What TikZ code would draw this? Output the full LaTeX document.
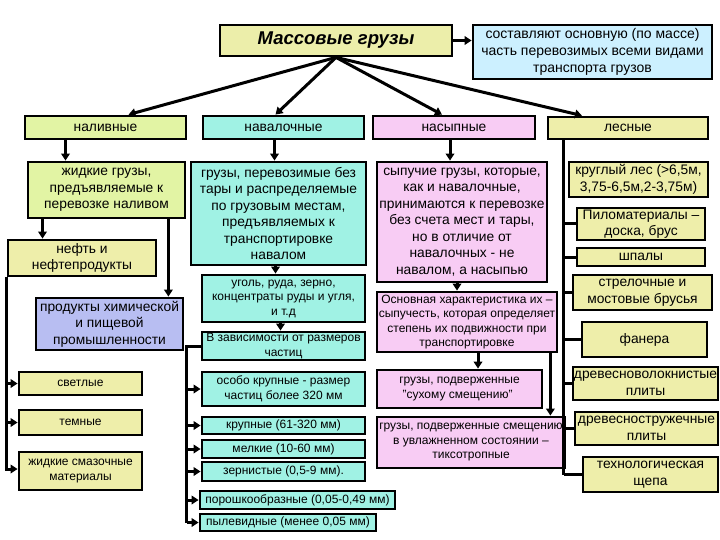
\documentclass[tikz,border=0pt]{standalone}
\usepackage{fontspec}
\setmainfont{Liberation Sans}
\usetikzlibrary{arrows.meta,calc}
\definecolor{cMain}{HTML}{ECEEAA}
\definecolor{cBlue}{HTML}{CCF0FF}
\definecolor{cGreen}{HTML}{E2F4A4}
\definecolor{cYel}{HTML}{EEEEAA}
\definecolor{cCyan}{HTML}{A0F2E4}
\definecolor{cPink}{HTML}{F8CCF4}
\definecolor{cLav}{HTML}{B8BEF2}
\newcommand\bx[7]{\node[box,#2,minimum width={(#5-#3)*1pt},minimum height={(#6-#4)*1pt}] (#1) at ({(#3+#5)/2},{(#4+#6)/2}) {#7};}
\begin{document}
\begin{tikzpicture}[x=1pt,y=-1pt,
  box/.style={draw=black,line width=2.8pt,inner sep=0.5pt,align=center,font=\fontsize{13.8}{16.5}\selectfont},
  sm/.style={font=\fontsize{12}{14.5}\selectfont},
  ln/.style={line width=3pt},
  arr/.style={line width=3pt,-{Triangle[length=7pt,width=8.5pt]}}]
\useasboundingbox[fill=white] (0,0) rectangle (720,540);
% top
\bx{main}{fill=cMain,font=\fontsize{18.5}{21}\bfseries\itshape\selectfont}{220}{25}{452}{56}{Массовые грузы}
\bx{note}{fill=cBlue,font=\fontsize{14}{17}\selectfont}{473}{25}{712}{79}{составляют основную (по массе)\\часть перевозимых всеми видами\\транспорта грузов}
% categories
\bx{nal}{fill=cGreen}{25}{116}{186}{139}{наливные}
\bx{nav}{fill=cCyan}{203}{116}{364}{139}{навалочные}
\bx{nas}{fill=cPink}{373}{116}{535}{139}{насыпные}
\bx{les}{fill=cYel}{548}{117}{708}{139}{лесные}
% column 1
\bx{zhid}{fill=cGreen}{28}{162}{185}{218}{жидкие грузы,\\предъявляемые к\\перевозке наливом}
\bx{neft}{fill=cYel}{8}{240}{156}{276}{нефть и\\нефтепродукты}
\bx{prod}{fill=cLav}{36}{298}{183}{350}{продукты химической\\и пищевой\\промышленности}
\bx{svet}{fill=cYel,sm}{19}{372}{142}{395}{светлые}
\bx{temn}{fill=cYel,sm}{19}{410}{142}{435}{темные}
\bx{smaz}{fill=cYel,sm}{19}{452}{142}{490}{жидкие смазочные\\материалы}
% column 2
\bx{gruz}{fill=cCyan}{191}{162}{366}{265}{грузы, перевозимые без\\тары и распределяемые\\по грузовым местам,\\предъявляемых к\\транспортировке\\навалом}
\bx{ugol}{fill=cCyan,sm}{202}{275}{365}{322}{уголь, руда, зерно,\\концентраты руды и угля,\\и т.д}
\bx{zav}{fill=cCyan,sm}{202}{332}{365}{360}{В зависимости от размеров\\частиц}
\bx{osob}{fill=cCyan,sm}{202}{372}{365}{406}{особо крупные - размер\\частиц более 320 мм}
\bx{krup}{fill=cCyan,sm}{202}{417}{365}{434}{крупные (61-320 мм)}
\bx{melk}{fill=cCyan,sm}{202}{440}{365}{458}{мелкие (10-60 мм)}
\bx{zern}{fill=cCyan,sm}{202}{462}{365}{481}{зернистые (0,5-9 мм).}
\bx{poro}{fill=cCyan,sm}{200}{491}{395}{509}{порошкообразные (0,05-0,49 мм)}
\bx{pyl}{fill=cCyan,sm}{200}{514}{376}{531}{пылевидные (менее 0,05 мм)}
% column 3
\bx{syp}{fill=cPink}{377}{162}{547}{282}{сыпучие грузы, которые,\\как и навалочные,\\принимаются к перевозке\\без счета мест и тары,\\но в отличие от\\навалочных - не\\навалом, а насыпью}
\bx{osn}{fill=cPink,sm}{377}{292}{557}{352}{Основная характеристика их –\\сыпучесть, которая определяет\\степень их подвижности при\\транспортировке}
\bx{suh}{fill=cPink,sm,align=left}{377}{370}{542}{408}{грузы, подверженные\\\ "сухому смещению"}
\bx{tiks}{fill=cPink,sm}{377}{417}{565}{468}{грузы, подверженные смещению\\в увлажненном состоянии –\\тиксотропные}
% column 4
\bx{krug}{fill=cYel}{569}{162}{708}{197}{круглый лес (>6,5м,\\3,75-6,5м,2-3,75м)}
\bx{pilo}{fill=cYel}{577}{208}{705}{240}{Пиломатериалы –\\доска, брус}
\bx{shpa}{fill=cYel}{577}{248}{705}{266}{шпалы}
\bx{stre}{fill=cYel}{573}{275}{712}{310}{стрелочные и\\мостовые брусья}
\bx{fane}{fill=cYel}{582}{322}{707}{357}{фанера}
\bx{drv}{fill=cYel}{573}{367}{718}{400}{древесноволокнистые\\плиты}
\bx{drs}{fill=cYel}{575}{412}{718}{445}{древесностружечные\\плиты}
\bx{shch}{fill=cYel}{583}{457}{718}{492}{технологическая\\щепа}
% top connectors
\draw[arr] (main.east) -- (main.east -| note.west);
\draw[arr] (main.south) -- ([xshift=23pt]nal.north);
\draw[arr] (main.south) -- ([xshift=-8pt]nav.north);
\draw[arr] (main.south) -- ([xshift=-12pt]nas.north);
\draw[arr] (main.south) -- ([xshift=-46pt]les.north);
% column 1 connectors
\draw[arr] ([xshift=-40pt]nal.south) -- ([xshift=-40pt]nal.south |- zhid.north);
\draw[arr] ([xshift=-64pt]zhid.south) -- ([xshift=-64pt]zhid.south |- neft.north);
\draw[arr] ([xshift=-18pt]zhid.south east) -- ([xshift=-18pt]zhid.south east |- prod.north);
\draw[arr] (neft.south west) |- (svet.west);
\draw[arr] (neft.south west) |- (temn.west);
\draw[arr] (neft.south west) |- ([yshift=2pt]smaz.west);
% column 2 connectors
\draw[arr] ([xshift=-9pt]nav.south) -- ([xshift=-9pt]nav.south |- gruz.north);
\draw[arr] ([xshift=-3pt]gruz.south) -- ([xshift=-3pt]gruz.south |- ugol.north);
\draw[arr] ([xshift=-3pt]ugol.south) -- ([xshift=-3pt]ugol.south |- zav.north);
\coordinate (zl) at ([xshift=-14pt]zav.west);
\draw[ln] (zav.west) -- (zl) -- (zl |- pyl.west);
\foreach \n in {osob,krup,melk,zern,poro,pyl}{\draw[arr] (zl |- \n.west) -- (\n.west);}
% column 3 connectors
\draw[arr] ([xshift=-4pt]nas.south) -- ([xshift=-4pt]nas.south |- syp.north);
\draw[arr] ([xshift=-5pt]syp.south) -- ([xshift=-5pt]syp.south |- osn.north);
\draw[arr] ([xshift=11pt]osn.south) -- ([xshift=11pt]osn.south |- suh.north);
\draw[arr] ([xshift=-8pt]osn.south east) -- ([xshift=-8pt]osn.south east |- tiks.north);
% column 4 connectors
\coordinate (lv) at ([xshift=17pt]les.south west);
\draw[ln] (lv) -- (lv |- shch.west);
\foreach \n in {pilo,shpa,stre,fane,drv,drs,shch}{\draw[ln] (lv |- \n.west) -- (\n.west);}
\end{tikzpicture}
\end{document}
